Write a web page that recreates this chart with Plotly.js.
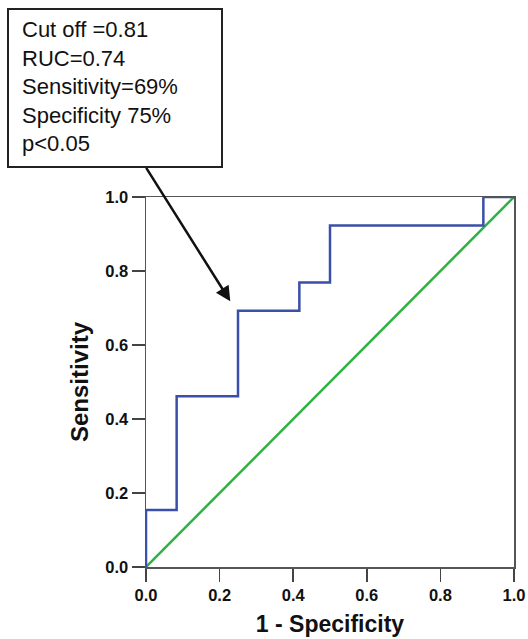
<!DOCTYPE html>
<html>
<head>
<meta charset="utf-8">
<script src="https://cdn.plot.ly/plotly-3.0.1.min.js"></script>
<style>html,body{margin:0;padding:0;background:#fff;}#chart{width:528px;height:639px;}</style>
</head>
<body>
<div id="chart"></div>
<script>
// ROC curve points (1 - specificity, sensitivity)
const fpr = [0, 0, 0.0833, 0.0833, 0.25, 0.25, 0.4167, 0.4167, 0.5, 0.5, 0.9167, 0.9167, 1];
const tpr = [0, 0.1538, 0.1538, 0.4615, 0.4615, 0.6923, 0.6923, 0.7692, 0.7692, 0.9231, 0.9231, 1, 1];
// reference line
const refX = [0, 1];
const refY = [0, 1];
const tickVals = [0, 0.2, 0.4, 0.6, 0.8, 1.0];
const tickText = ["0.0", "0.2", "0.4", "0.6", "0.8", "1.0"];
const boxLines = ["Cut off =0.81", "RUC=0.74", "Sensitivity=69%", "Specificity 75%", "p<0.05"];
// arrow target point on the curve
const arrowX = 0.229;
const arrowY = 0.718;

const traces = [
  {x: refX, y: refY, mode: 'lines', line: {color: '#2db240', width: 2.5}, hoverinfo: 'skip'},
  {x: fpr, y: tpr, mode: 'lines', line: {color: '#3a4fa8', width: 2.5}, hoverinfo: 'skip'}
];

const W = 528, H = 639, L = 146, R = 14, T = 197, B = 72;
const pw = W - L - R, ph = H - T - B;
const px = v => (v - L) / pw;
const py = v => (H - B - v) / ph;
const FONT = 'Liberation Sans, Arial, sans-serif';

const axisCommon = {
  range: [0, 1], tickvals: tickVals, ticktext: tickText,
  ticks: 'outside', ticklen: 13, tickwidth: 1.5, tickcolor: '#444',
  showline: true, linecolor: '#555', linewidth: 1.5, mirror: true,
  showgrid: false, zeroline: false,
  tickfont: {size: 16.5, family: FONT, color: '#111', weight: 'bold'}
};

const layout = {
  width: W, height: H,
  margin: {l: L, r: R, t: T, b: B},
  paper_bgcolor: '#fff', plot_bgcolor: '#fff',
  showlegend: false,
  font: {family: FONT, color: '#111'},
  xaxis: Object.assign({}, axisCommon, {
    title: {text: '<b>1 - Specificity</b>', font: {size: 23, color: '#111'}, standoff: 12}
  }),
  yaxis: Object.assign({}, axisCommon, {
    title: {text: '<b>Sensitivity</b>', font: {size: 24, color: '#111'}, standoff: 10}
  }),
  shapes: [
    {type: 'rect', xref: 'paper', yref: 'paper',
     x0: px(8), x1: px(222), y0: py(167), y1: py(9),
     line: {color: '#222', width: 2}, fillcolor: '#fff', layer: 'above'}
  ],
  annotations: [
    {xref: 'paper', yref: 'paper', x: px(20), y: py(15), xanchor: 'left', yanchor: 'top',
     text: boxLines.join('<br>'), align: 'left', showarrow: false,
     font: {size: 22, color: '#111', family: FONT}},
    {x: arrowX, y: arrowY, xref: 'x', yref: 'y', text: '', showarrow: true,
     axref: 'pixel', ayref: 'pixel', ax: -85, ay: -135,
     arrowhead: 2, arrowsize: 1.2, arrowwidth: 2.5, arrowcolor: '#111', standoff: 0}
  ]
};

Plotly.newPlot('chart', traces, layout, {displayModeBar: false, staticPlot: true});
</script>
</body>
</html>
